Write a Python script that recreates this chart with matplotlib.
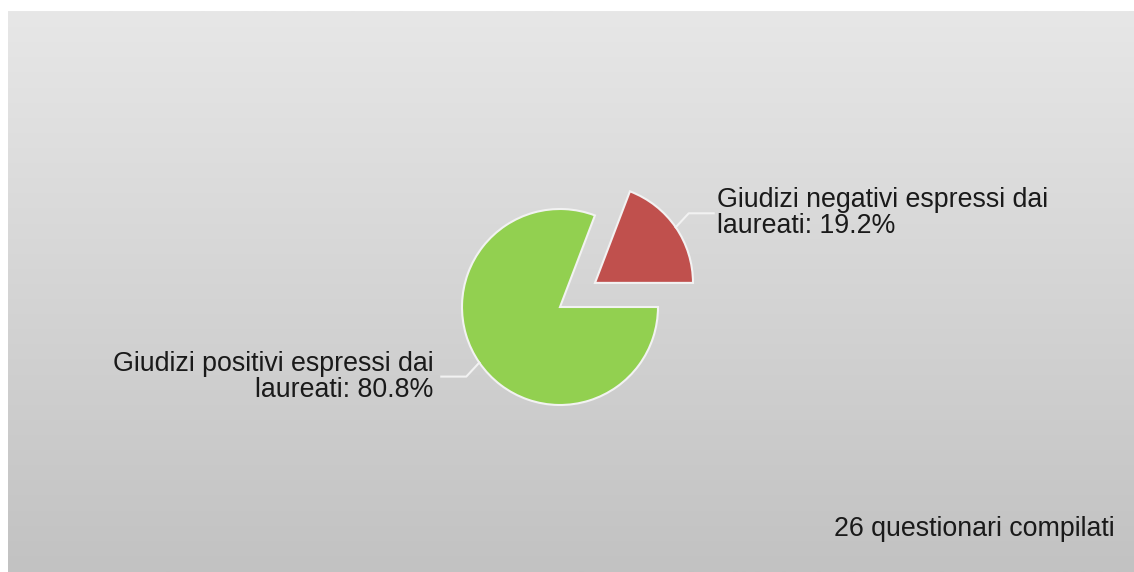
import numpy as np
import matplotlib
matplotlib.use('Agg')
import matplotlib.pyplot as plt

# pie data (percent) and labels
categories = ['Giudizi negativi espressi dai\nlaureati', 'Giudizi positivi espressi dai\nlaureati']
values = [19.2, 80.8]
colors = ['#c0504d', '#92d050']
note = '26 questionari compilati'

W, H = 1134, 572
fig = plt.figure(figsize=(W / 100, H / 100), dpi=100)
ax = fig.add_axes([0, 0, 1, 1])

# pie in pixel coordinates (y up)
cx, cy, r = 560, 265, 98
wedges, _ = ax.pie(values, colors=colors, startangle=0, counterclock=True,
                   radius=r, center=(cx, cy), explode=[42.5, 0],
                   wedgeprops=dict(edgecolor='#f2f2f2', linewidth=1.5))

# gray gradient background
grad = np.linspace(0, 1, 256).reshape(-1, 1)
ax.imshow(grad, cmap=matplotlib.colors.LinearSegmentedColormap.from_list('bg', ['#e7e7e7', '#c2c2c2']),
          extent=[8, W, 0, H - 11], aspect='auto', zorder=0)

ax.set_xlim(0, W)
ax.set_ylim(0, H)
ax.axis('off')

font = dict(family=['Liberation Sans', 'DejaVu Sans'], fontsize=19.3, color='#1a1a1a')

for w, cat, v in zip(wedges, categories, values):
    mid = np.deg2rad((w.theta1 + w.theta2) / 2)
    x0 = w.center[0] + w.r * np.cos(mid)
    y0 = w.center[1] + w.r * np.sin(mid)
    side = 1 if np.cos(mid) > 0 else -1
    x1, y1 = x0 + side * 13, y0 + 14 * np.sign(np.sin(mid))
    x2 = x1 + side * 25
    ax.plot([x0, x1, x2], [y0, y1, y1], color='#f2f2f2', lw=1.5, zorder=3)
    gap = 3 if side > 0 else 8
    ax.text(x2 + side * gap, y1, '{}: {}%'.format(cat, v),
            ha='left' if side > 0 else 'right', va='center',
            multialignment='left' if side > 0 else 'right',
            linespacing=1.0, **font)

ax.text(1115, H - 536, note, ha='right', va='baseline', **font)

fig.savefig('out.png', dpi=100)
